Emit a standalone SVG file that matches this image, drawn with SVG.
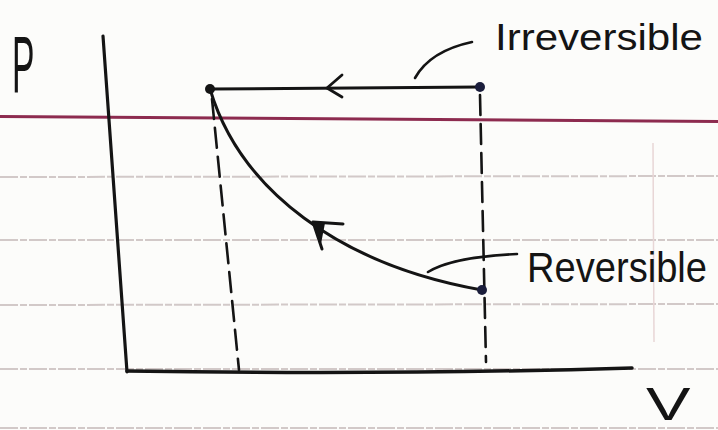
<svg xmlns="http://www.w3.org/2000/svg" width="718" height="430" viewBox="0 0 718 430">
  <style>
    .rule { stroke: #c7bcbc; stroke-width: 2; fill: none; stroke-dasharray: 18 2 7 2; opacity: 0.8; }
    .ink { stroke: #141414; fill: none; stroke-linecap: round; stroke-linejoin: round; }
    .dash { stroke: #141414; fill: none; stroke-width: 2.6; stroke-dasharray: 20 9; stroke-linecap: round; }
    .dot { fill: #141414; }
    .dotb { fill: #1b1e3c; }
    .hand { font-family: "Liberation Sans", Arial, sans-serif; fill: #141414; }
  </style>

  <g id="paper">
    <rect x="0" y="0" width="718" height="430" fill="#fcfcfa"/>
    <path d="M0,116.5 L718,121.5" stroke="#8d2b4f" stroke-width="3" fill="none"/>
    <path class="rule" d="M0,177 L718,176"/>
    <path class="rule" d="M0,240 L718,240"/>
    <path class="rule" d="M0,305 L718,304"/>
    <path class="rule" d="M0,369 L718,369"/>
    <path class="rule" d="M0,428 L718,428"/>
    <path d="M653,143 L654,342" stroke="#e8d6d6" stroke-width="1.5" fill="none"/>
  </g>

  <g id="axes">
    <path class="ink" d="M103,36 L127,372" stroke-width="3.2"/>
    <path class="ink" d="M127,371 Q400,375 632,368" stroke-width="3.5"/>
    <text class="hand" x="0" y="0" font-size="80" transform="translate(12,92) scale(0.42,1)">P</text>
    <text class="hand" x="0" y="0" font-size="46" transform="translate(646,420) scale(1.45,1)">V</text>
  </g>

  <g id="connectors">
    <g id="irreversible-path">
      <path class="ink" d="M210,89 L480,87" stroke-width="3"/>
      <path class="ink" d="M342,75 L327,88 L342,97" stroke-width="2.8"/>
    </g>
    <g id="reversible-path">
      <path class="ink" d="M482,290 C340,265 240,190 210,89" stroke-width="3"/>
      <path class="ink" d="M343,224 L313,222 L322,249" stroke-width="3"/>
      <path d="M313,222 L325,223 L321,244 Z" fill="#141414"/>
    </g>
    <path class="dash" d="M212,99 L239,370"/>
    <path class="dash" d="M480,95 L486,362"/>
    <path class="ink" d="M415,78 Q430,51 472,42" stroke-width="2.6"/>
    <path class="ink" d="M428,272 Q452,257 517,254" stroke-width="2.6"/>
  </g>

  <g id="node-A">
    <circle class="dot" cx="210" cy="89" r="5"/>
  </g>
  <g id="node-B">
    <circle class="dotb" cx="480" cy="87" r="5"/>
  </g>
  <g id="node-C">
    <circle class="dotb" cx="482" cy="290" r="5"/>
  </g>

  <g id="labels">
    <text class="hand" x="495" y="50" font-size="36" textLength="208" lengthAdjust="spacingAndGlyphs">Irreversible</text>
    <text class="hand" x="0" y="0" font-size="38" textLength="180" lengthAdjust="spacingAndGlyphs" transform="translate(527,282) scale(1,1.12)">Reversible</text>
  </g>
</svg>
